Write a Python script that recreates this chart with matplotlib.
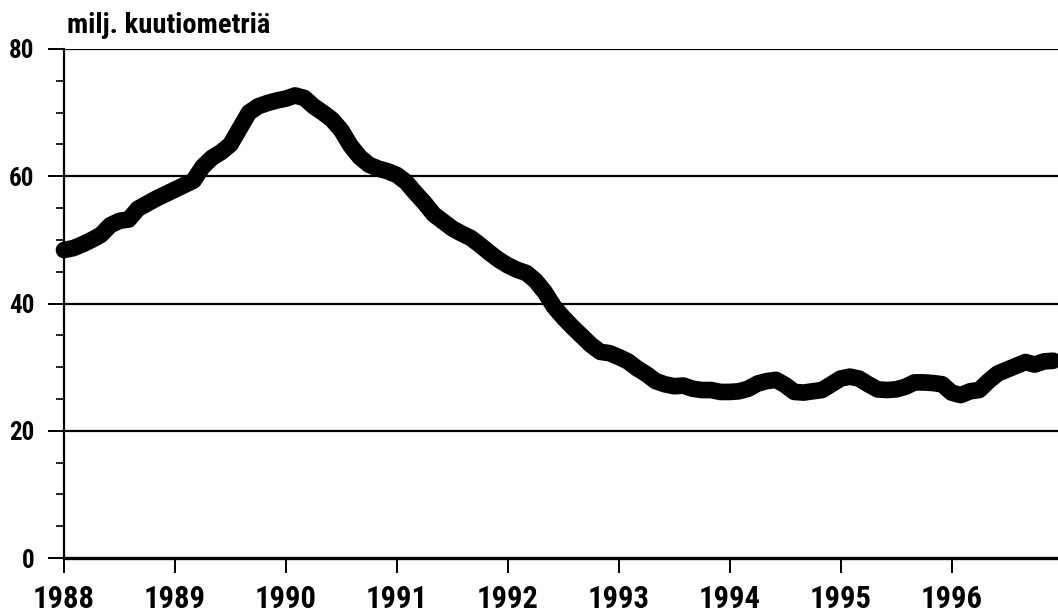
import numpy as np
import matplotlib
matplotlib.use('Agg')
import matplotlib.pyplot as plt
from matplotlib.ticker import MultipleLocator

# monthly values, Jan 1988 .. Dec 1996 (million cubic metres)
values = [
    48.4, 48.7, 49.3, 50.0, 50.8, 52.3, 53.0, 53.2, 54.9, 55.7, 56.5, 57.2,
    57.9, 58.6, 59.3, 61.5, 62.9, 63.8, 65.0, 67.5, 70.0, 71.0, 71.5, 71.9,
    72.2, 72.7, 72.3, 71.0, 70.0, 68.9, 67.2, 64.8, 63.0, 61.8, 61.2, 60.8,
    60.2, 59.1, 57.4, 55.8, 54.0, 52.9, 51.8, 51.0, 50.3, 49.2, 48.0, 46.9,
    46.0, 45.3, 44.8, 43.6, 41.8, 39.5, 37.8, 36.3, 34.9, 33.5, 32.4, 32.2,
    31.6, 30.9, 29.8, 28.9, 27.8, 27.3, 27.0, 27.1, 26.6, 26.4, 26.4, 26.1,
    26.1, 26.2, 26.6, 27.4, 27.8, 28.0, 27.2, 26.1, 26.0, 26.2, 26.4, 27.3,
    28.2, 28.5, 28.2, 27.3, 26.5, 26.4, 26.5, 26.9, 27.6, 27.6, 27.5, 27.3,
    26.0, 25.6, 26.2, 26.4, 27.8, 29.0, 29.6, 30.2, 30.8, 30.4, 30.9, 31.0,
]
years = [1988, 1989, 1990, 1991, 1992, 1993, 1994, 1995, 1996]
yticks = [0, 20, 40, 60, 80]

x = 1988 + np.arange(len(values)) / 12

font = ['Liberation Sans Narrow', 'DejaVu Sans Condensed', 'Roboto Condensed',
        'Roboto', 'DejaVu Sans']

fig = plt.figure(figsize=(10.58, 6.14), dpi=100)
ax = fig.add_axes([64 / 1058, 1 - 558 / 614, 1 - 64 / 1058, (558 - 49) / 614])

for v in yticks[1:]:
    ax.axhline(v, color='black', lw=1.6, zorder=1)

ax.plot(x, values, color='black', lw=12, solid_capstyle='round',
        solid_joinstyle='round', clip_on=False, zorder=3)

ax.set_xlim(1988, 1996.96)
ax.set_ylim(0, 80)

ax.set_xticks(years)
ax.set_xticklabels([str(y) for y in years])
ax.set_yticks(yticks)
ax.set_yticklabels([str(v) for v in yticks])
ax.yaxis.set_minor_locator(MultipleLocator(5))

ax.tick_params(axis='y', which='major', direction='out', length=11.5, width=1.4,
               pad=10, labelsize=18)
ax.tick_params(axis='y', which='minor', direction='out', length=5.5, width=1.2)
ax.tick_params(axis='x', which='major', direction='out', length=11, width=1.4,
               pad=8, labelsize=22)

for lab in ax.get_xticklabels() + ax.get_yticklabels():
    lab.set_family(font)
    lab.set_fontweight('bold')

for side in ['top', 'right']:
    ax.spines[side].set_visible(False)
ax.spines['left'].set_linewidth(1.6)
ax.spines['bottom'].set_linewidth(2.4)

fig.text(67 / 1058, 1 - 33 / 614, 'milj. kuutiometriä', family=font,
         fontweight='bold', fontsize=20.5, va='baseline', ha='left')

fig.savefig('out.png', dpi=100)
